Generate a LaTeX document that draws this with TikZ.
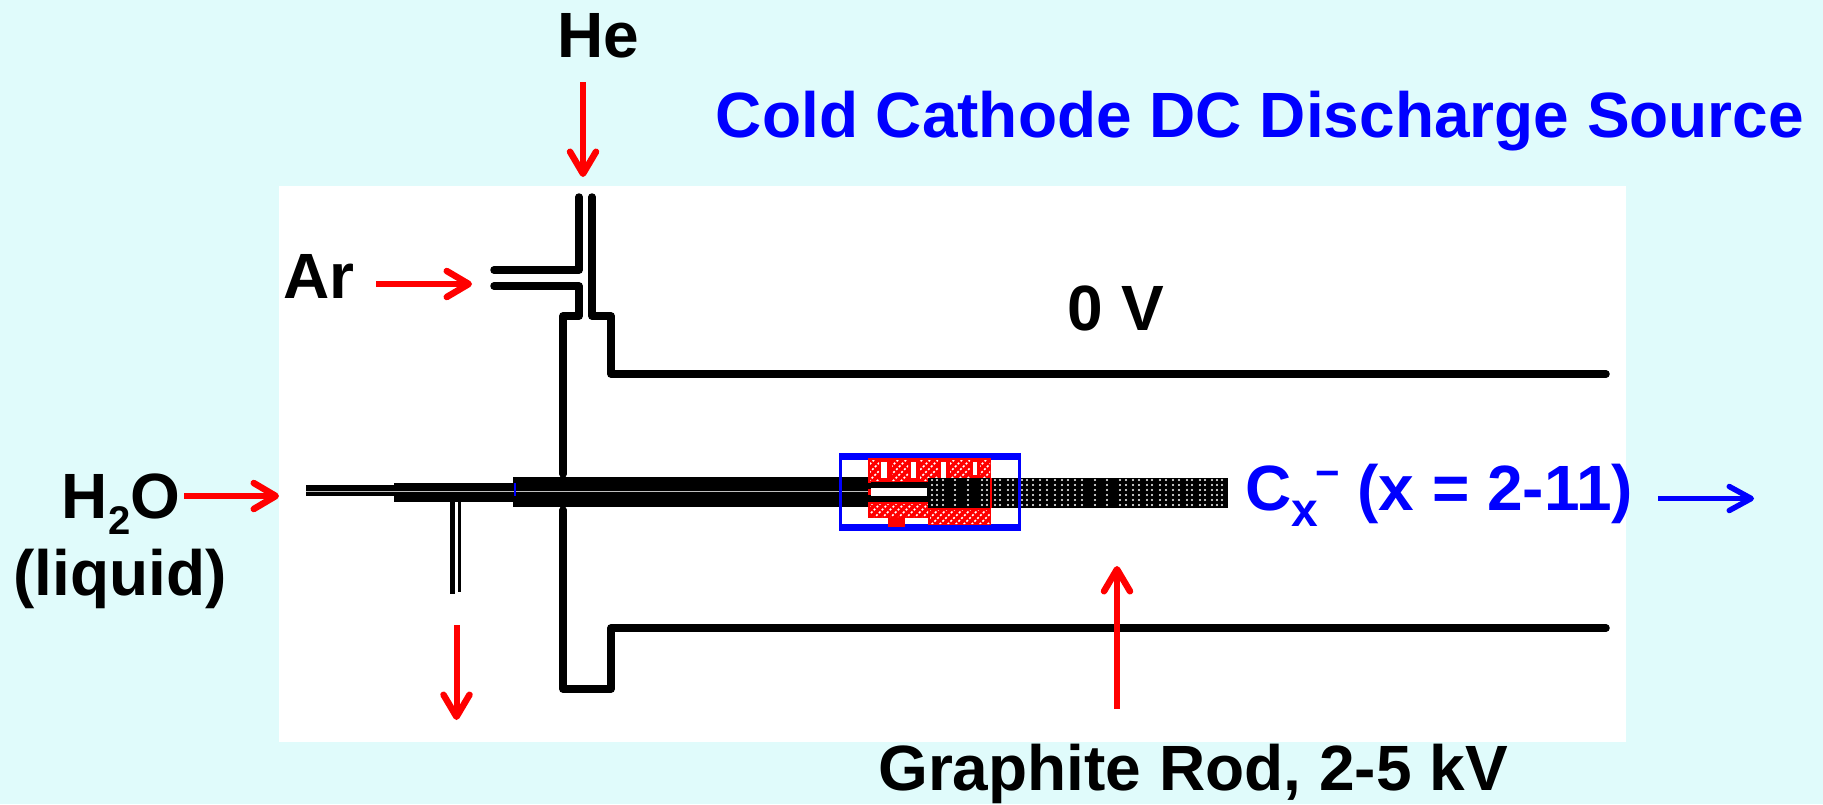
\documentclass[tikz,border=0pt]{standalone}
\usepackage{fontspec}
\setmainfont{Liberation Sans}
\usetikzlibrary{arrows.meta}
\definecolor{bgc}{RGB}{224,251,251}
\definecolor{bluec}{RGB}{0,0,255}
\newcommand{\lowtwo}{\raisebox{-16pt}{\fontsize{40}{44}\selectfont 2}}
\newcommand{\lowx}{\raisebox{-16pt}{\fontsize{48}{52}\selectfont x}}
\newcommand{\highminus}{\raisebox{23pt}{\fontsize{42}{46}\selectfont −}}
\tikzset{
  wall/.style={draw=black,line width=7.5pt,line join=round,line cap=round},
  redarrow/.style={draw=red,line width=6pt,-{Straight Barb[length=22pt,width=26pt,line width=6.5pt,round]}},
  bluearrow/.style={draw=bluec,line width=5pt,-{Straight Barb[length=22pt,width=24pt,line width=5.5pt,round]}},
  label/.style={font=\fontsize{64}{70}\selectfont\bfseries,text=black,inner sep=0pt,anchor=base},
  bluelabel/.style={label,text=bluec},
  solid block/.style={fill=black,draw=none},
  gap line/.style={draw=white!75!black,line width=1.8pt},
  dot/.style={fill=white,draw=none},
  hatch/.style={draw=white,line width=1.7pt,dash pattern=on 2pt off 2pt},
}
\begin{document}
\begin{tikzpicture}[x=1pt,y=-1pt]
\useasboundingbox (0,0) rectangle (1823,804);
\fill[bgc] (0,0) rectangle (1823,804);
\fill[white] (279,186) rectangle (1626,742);
% walls
\draw[wall] (579,197) -- (579,270) -- (494,270);
\draw[wall] (592,197) -- (592,316) -- (611,316) -- (611,374) -- (1606,374);
\draw[wall] (494,286) -- (579,286) -- (579,316) -- (563,316) -- (563,474);
\draw[wall] (563,510) -- (563,689) -- (611,689) -- (611,628) -- (1606,628);
% tubes
\fill[solid block] (306,485) rectangle (394,496);
\fill[solid block] (394,483) rectangle (513,502);
\fill[solid block] (513,477) rectangle (871,507);
\fill[solid block] (450,500) rectangle (455,594);
\fill[solid block] (458,500) rectangle (461,592);
\draw[gap line] (306,491.5) -- (871,491.5);
\draw[bluec,line width=2pt] (515,483) -- (515,496);
% blue box
\draw[bluec,line width=3pt] (840.5,456) -- (840.5,527);
\fill[bluec] (839,453) rectangle (1021,459.5);
\fill[bluec] (839,524) rectangle (1021,531);
% source body
\fill[red] (868,458) rectangle (991,483);
\fill[red] (868,502) rectangle (928,518);
\fill[red] (928,507) rectangle (991,525);
\fill[red] (888,518) rectangle (905,527);
\fill[white] (881,462) rectangle (887,478);
\fill[white] (911,462) rectangle (916,478);
\fill[white] (941,462) rectangle (946,478);
\fill[white] (973,462) rectangle (977,475);
\begin{scope}
  \clip (870,460) rectangle (879,481) (892,460) rectangle (908,481)
        (920,460) rectangle (938,481) (950,460) rectangle (970,481)
        (980,460) rectangle (990,481)
        (870,504) rectangle (928,517) (930,510) rectangle (990,524);
  \foreach \k in {0,8,...,176}{
    \draw[hatch] (850+\k,484) -- (880+\k,454);
    \draw[hatch] (830+\k,530) -- (860+\k,500);
  }
\end{scope}
\fill[solid block] (871,482) rectangle (930,502);
\fill[white] (871,488) rectangle (927,496);
\fill[red] (868,489) rectangle (871,495);
\fill[solid block] (928,478) rectangle (1228,507.5);
\fill[red] (990,478) rectangle (991.5,507.5);
\foreach \x in {932,937,943,955,968,982,987,995,1000,1008,1013,1022,1027,1033,1040,1047,1055,1062,1068,1075,1082,1095,1107,1120,1126,1133,1139,1147,1152,1160,1166,1173,1179,1187,1192,1200,1205,1212,1217,1222}{
  \foreach \y in {480,485,490,495,500,505}{\fill[dot] (\x,\y) circle (1.2pt);}
}
\draw[bluec,line width=3pt] (1019.5,453) -- (1019.5,531);
% arrows
\coordinate (heA) at (583,82); \coordinate (heB) at (583,177);
\coordinate (arA) at (376,284); \coordinate (arB) at (472,284);
\coordinate (wA) at (184,496); \coordinate (wB) at (279,496);
\coordinate (dA) at (456.5,625); \coordinate (dB) at (456.5,720);
\coordinate (gA) at (1117,709); \coordinate (gB) at (1117,566);
\coordinate (cA) at (1658,498.5); \coordinate (cB) at (1754,498.5);
\draw[redarrow] (heA) -- (heB);
\draw[redarrow] (arA) -- (arB);
\draw[redarrow] (wA) -- (wB);
\draw[redarrow] (dA) -- (dB);
\draw[redarrow] (gA) -- (gB);
\draw[bluearrow] (cA) -- (cB);
% labels
\node[label] (he) at (598,57) {He};
\node[bluelabel] (title) at (1260,137) {Cold Cathode DC Discharge Source};
\node[label] (ar) at (319,298) {Ar};
\node[label] (zero) at (1116,330) {0 V};
\node[label] (water) at (121,518) {H\lowtwo O};
\node[label] (liq) at (120,595) {(liquid)};
\node[bluelabel,anchor=base west] (cx) at (1245,510) {C\lowx\kern-3pt\highminus{} (x = 2-11)};
\node[label] (rod) at (1193,790) {Graphite Rod, 2-5 kV};
\end{tikzpicture}
\end{document}
